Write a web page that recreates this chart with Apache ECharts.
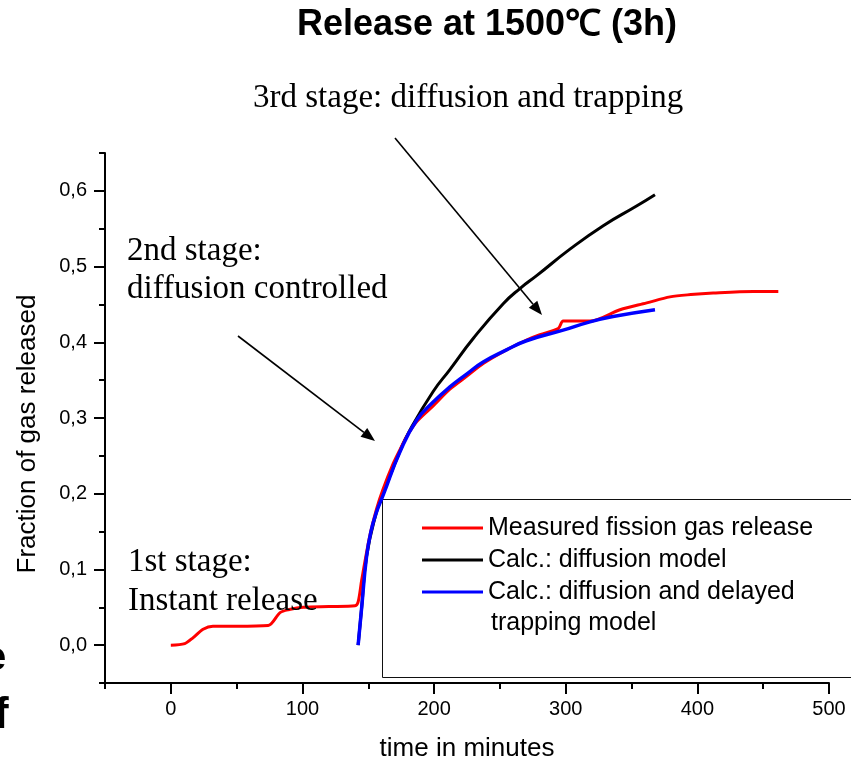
<!DOCTYPE html>
<html>
<head>
<meta charset="utf-8">
<script src="https://cdn.jsdelivr.net/npm/echarts@6/dist/echarts.min.js"></script>
<style>
html,body{margin:0;padding:0;background:#fff;}
#chart{width:851px;height:763px;}
</style>
</head>
<body>
<div id="chart"></div>
<script>
// ---- Data ----
const xTickValues = [0, 100, 200, 300, 400, 500];
const xTickLabels = ['0', '100', '200', '300', '400', '500'];
const yTickValues = [0, 0.1, 0.2, 0.3, 0.4, 0.5, 0.6];
const yTickLabels = ['0,0', '0,1', '0,2', '0,3', '0,4', '0,5', '0,6'];

const seriesNames = ['Measured fission gas release', 'Calc.: diffusion model', 'Calc.: diffusion and delayed trapping model'];

// time (min), fraction of gas released
const measured = [
  [0, 0], [10.6, 0.002], [17, 0.01], [24.5, 0.021], [32, 0.025], [50, 0.025], [74, 0.026],
  [83, 0.043], [90, 0.047], [100.5, 0.05], [120, 0.051], [140, 0.052], [142.3, 0.057],
  [145, 0.086], [151, 0.143], [156.3, 0.18], [161, 0.205], [169, 0.24], [174, 0.258],
  [179, 0.275], [186.7, 0.295], [199.3, 0.316], [212, 0.338], [224.7, 0.355], [237.3, 0.372],
  [255, 0.39], [270.2, 0.403], [280.4, 0.41], [294.3, 0.418], [298.1, 0.428], [318.4, 0.428],
  [341.2, 0.443], [361.5, 0.452], [379.2, 0.46], [395, 0.463], [412, 0.465], [442.5, 0.467], [461.5, 0.467]
];
const diffusionModel = [
  [142.3, 0], [145, 0.05], [148.7, 0.117], [156.3, 0.176], [161.3, 0.2], [174, 0.256],
  [181.6, 0.284], [199.3, 0.335], [212, 0.364], [229.7, 0.405], [252.5, 0.451],
  [265.2, 0.471], [277.9, 0.488], [303.2, 0.523], [328.5, 0.554], [353.8, 0.58], [367.8, 0.595]
];
const trappingModel = [
  [142.3, 0], [145, 0.05], [148.7, 0.117], [152, 0.15], [156.3, 0.176], [161.3, 0.198],
  [174, 0.255], [186.7, 0.297], [199.3, 0.321], [212, 0.341], [224.7, 0.358], [237.3, 0.374],
  [255, 0.39], [270.2, 0.402], [298, 0.416], [318.4, 0.427], [336, 0.434], [367.8, 0.443]
];

// ---- Chart ----
const SANS = "'Liberation Sans', Arial, sans-serif";
const SERIF = "'Liberation Serif', 'Times New Roman', serif";
const chart = echarts.init(document.getElementById('chart'), null, {renderer: 'canvas'});

function arrow(x1, y1, x2, y2) {
  const ang = Math.atan2(y2 - y1, x2 - x1);
  const L = 14, W = 5.5;
  const bx = x2 - L * Math.cos(ang), by = y2 - L * Math.sin(ang);
  const px = -Math.sin(ang) * W, py = Math.cos(ang) * W;
  return [
    {type: 'line', z: 50, shape: {x1: x1, y1: y1, x2: bx, y2: by}, style: {stroke: '#000', lineWidth: 1.6}},
    {type: 'polygon', z: 50, shape: {points: [[x2, y2], [bx + px, by + py], [bx - px, by - py]]}, style: {fill: '#000'}}
  ];
}

function annot(text, x, y, size, family, weight, extra) {
  return Object.assign({
    type: 'text', z: 100, x: x, y: y,
    style: {text: text, fill: '#000', font: (weight || 'normal') + ' ' + size + 'px ' + family,
            align: 'left', verticalAlign: 'middle'}
  }, extra || {});
}

const legendRows = [
  {color: '#ff0000', y: 528, text: seriesNames[0]},
  {color: '#000000', y: 560, text: seriesNames[1]},
  {color: '#0000ff', y: 592, text: 'Calc.: diffusion and delayed'}
];

const graphics = [
  // legend frame
  {type: 'rect', z: 1, shape: {x: 382.5, y: 499.5, width: 480, height: 178}, style: {fill: 'none', stroke: '#111', lineWidth: 1}},
  // title
  {type: 'text', z: 100, x: 487, y: 25, style: {text: 'Release at 1500\u2103 (3h)', fill: '#000', font: 'bold 36px ' + SANS, align: 'center', verticalAlign: 'middle'}},
  annot('3rd stage: diffusion and trapping', 253, 98, 33, SERIF),
  annot('2nd stage:', 127, 251, 33, SERIF),
  annot('diffusion controlled', 127, 289, 33, SERIF),
  annot('1st stage:', 128, 562, 33, SERIF),
  annot('Instant release', 128, 601, 33, SERIF),
  // axis titles
  {type: 'text', z: 100, x: 28, y: 434, rotation: Math.PI / 2,
   style: {text: 'Fraction of gas released', fill: '#000', font: '26px ' + SANS, align: 'center', verticalAlign: 'middle'}},
  {type: 'text', z: 100, x: 467, y: 749,
   style: {text: 'time in minutes', fill: '#000', font: '26px ' + SANS, align: 'center', verticalAlign: 'middle'}},
  // fragments at the left edge
  annot('e', -16, 659, 40, SANS, 'bold'),
  annot('f', -6, 716, 44, SANS, 'bold'),
  annot('trapping model', 491, 623, 25, SANS)
];
legendRows.forEach(function (r) {
  graphics.push({type: 'line', z: 60, shape: {x1: 422, y1: r.y, x2: 483, y2: r.y}, style: {stroke: r.color, lineWidth: 3}});
  graphics.push(annot(r.text, 488, r.y, 25, SANS));
});
Array.prototype.push.apply(graphics, arrow(395, 138, 542, 315));
Array.prototype.push.apply(graphics, arrow(238, 336, 375, 441));

const axisLineStyle = {lineStyle: {color: '#000', width: 2}};

const option = {
  animation: false,
  backgroundColor: '#fff',
  grid: {left: 105, right: 22, top: 153, bottom: 80, containLabel: false, outerBoundsMode: 'none'},
  xAxis: [
    {type: 'value', position: 'bottom', min: -50, max: 500, interval: 50,
     axisLine: Object.assign({show: true, onZero: false}, axisLineStyle),
     axisTick: {show: true, length: 6, lineStyle: {color: '#000', width: 2}},
     axisLabel: {show: false}, splitLine: {show: false}},
    {type: 'value', position: 'bottom', min: -50, max: 500,
     axisLine: {show: false, onZero: false},
     axisTick: {show: true, length: 11, customValues: xTickValues, lineStyle: {color: '#000', width: 2}},
     axisLabel: {show: true, customValues: xTickValues, margin: 16, color: '#000', fontSize: 20, fontFamily: SANS,
                 formatter: function (v) { return xTickLabels[xTickValues.indexOf(Math.round(v))]; }},
     splitLine: {show: false}}
  ],
  yAxis: [
    {type: 'value', position: 'left', min: -0.05, max: 0.65, interval: 0.05,
     axisLine: Object.assign({show: true, onZero: false}, axisLineStyle),
     axisTick: {show: true, length: 6, lineStyle: {color: '#000', width: 2}},
     axisLabel: {show: false}, splitLine: {show: false}},
    {type: 'value', position: 'left', min: -0.05, max: 0.65,
     axisLine: {show: false, onZero: false},
     axisTick: {show: true, length: 11, customValues: yTickValues, lineStyle: {color: '#000', width: 2}},
     axisLabel: {show: true, customValues: yTickValues, margin: 18, color: '#000', fontSize: 20, fontFamily: SANS,
                 formatter: function (v) { return yTickLabels[Math.round(v * 10)]; }},
     splitLine: {show: false}}
  ],
  graphic: graphics,
  series: [
    {name: seriesNames[1], type: 'line', data: diffusionModel, xAxisIndex: 0, yAxisIndex: 0,
     showSymbol: false, smooth: 0.5, z: 3,
     lineStyle: {color: '#000000', width: 3}},
    {name: seriesNames[0], type: 'line', data: measured, xAxisIndex: 0, yAxisIndex: 0,
     showSymbol: false, smooth: 0.3, z: 4,
     lineStyle: {color: '#ff0000', width: 3}},
    {name: seriesNames[2], type: 'line', data: trappingModel, xAxisIndex: 0, yAxisIndex: 0,
     showSymbol: false, smooth: 0.5, z: 5,
     lineStyle: {color: '#0000ff', width: 3.5}}
  ]
};
chart.setOption(option);
</script>
</body>
</html>
